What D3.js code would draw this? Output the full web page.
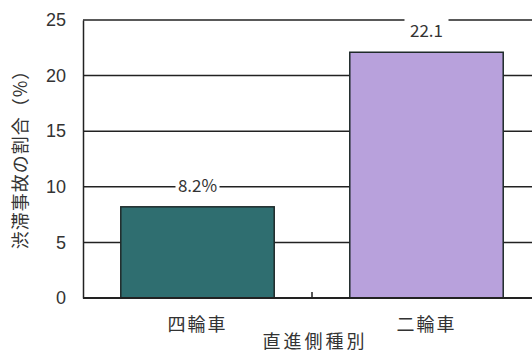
<!DOCTYPE html>
<html>
<head>
<meta charset="utf-8">
<script src="https://cdn.jsdelivr.net/npm/d3@7"></script>
<style>
  html, body { margin: 0; padding: 0; background: #fff; }
  svg { display: block; }
  text { font-family: "Noto Sans CJK JP", "Noto Sans", sans-serif; fill: #333; }
</style>
</head>
<body>
<svg id="chart" width="532" height="352"></svg>
<script>
// 直進側種別ごとの渋滞事故の割合
const categories = ["四輪車", "二輪車"];
const shares = [8.2, 22.1];
const valueLabels = ["8.2%", "22.1"];
const barColors = ["#2f6e70", "#b8a1dc"];
const yTicks = [0, 5, 10, 15, 20, 25];

const svg = d3.select("#chart");
const plotLeft = 83, plotTop = 20, plotBottom = 298, plotRight = 541;

const x = d3.scaleBand()
  .domain(categories)
  .range([plotLeft, plotRight])
  .paddingInner(0.33)
  .paddingOuter(0.165);

const y = d3.scaleLinear().domain([0, 25]).range([plotBottom, plotTop]);

// 横グリッド線
svg.append("g")
  .selectAll("line")
  .data(yTicks.filter(d => d > 0))
  .join("line")
  .attr("x1", plotLeft).attr("x2", 532)
  .attr("y1", d => y(d)).attr("y2", d => y(d))
  .attr("stroke", "#222").attr("stroke-width", 1.5);

// 棒
svg.append("g")
  .selectAll("rect")
  .data(categories)
  .join("rect")
  .attr("x", d => x(d))
  .attr("width", x.bandwidth())
  .attr("y", (d, i) => y(shares[i]))
  .attr("height", (d, i) => y(0) - y(shares[i]))
  .attr("fill", (d, i) => barColors[i])
  .attr("stroke", "#1e2a2a")
  .attr("stroke-width", 1.5);

// 値ラベル(背景を白抜き)
const labels = svg.append("g")
  .selectAll("g")
  .data(categories)
  .join("g")
  .attr("transform", (d, i) => `translate(${x(d) + x.bandwidth() / 2},${y(shares[i]) - 21})`);
labels.append("rect")
  .attr("x", -22).attr("width", 44)
  .attr("y", -13).attr("height", 26)
  .attr("fill", "#fff");
labels.append("text")
  .attr("text-anchor", "middle")
  .attr("dy", "0.36em")
  .attr("font-size", 17)
  .text((d, i) => valueLabels[i]);

// Y軸
const yAxis = svg.append("g")
  .attr("transform", `translate(${plotLeft},0)`)
  .call(d3.axisLeft(y).tickValues(yTicks).tickSize(0).tickPadding(17));
yAxis.select(".domain").attr("stroke", "#222").attr("stroke-width", 1.5);
yAxis.selectAll("text")
  .attr("font-size", 18)
  .style("font-family", "'Liberation Sans', Arial, sans-serif")
  .attr("fill", "#333");

// X軸
const xAxis = svg.append("g")
  .attr("transform", `translate(0,${plotBottom})`)
  .call(d3.axisBottom(x).tickSize(0).tickPadding(20));
xAxis.select(".domain").remove();
xAxis.selectAll("text")
  .attr("font-size", 18)
  .attr("letter-spacing", 2)
  .attr("fill", "#333");
svg.append("line")
  .attr("x1", plotLeft).attr("x2", 532)
  .attr("y1", plotBottom).attr("y2", plotBottom)
  .attr("stroke", "#222").attr("stroke-width", 2);

// 区分の境目の目盛
const midX = (x(categories[0]) + x.bandwidth() + x(categories[1])) / 2;
svg.append("line")
  .attr("x1", midX).attr("x2", midX)
  .attr("y1", plotBottom - 6).attr("y2", plotBottom)
  .attr("stroke", "#222").attr("stroke-width", 1.5);

// 軸タイトル
svg.append("text")
  .attr("x", (plotLeft + plotRight) / 2 + 3)
  .attr("y", 348)
  .attr("text-anchor", "middle")
  .attr("font-size", 18)
  .attr("letter-spacing", 3)
  .text("直進側種別");

svg.append("text")
  .attr("transform", `translate(27,155) rotate(-90)`)
  .attr("text-anchor", "middle")
  .attr("font-size", 18)
  .attr("letter-spacing", 1)
  .text("渋滞事故の割合（%）");
</script>
</body>
</html>
